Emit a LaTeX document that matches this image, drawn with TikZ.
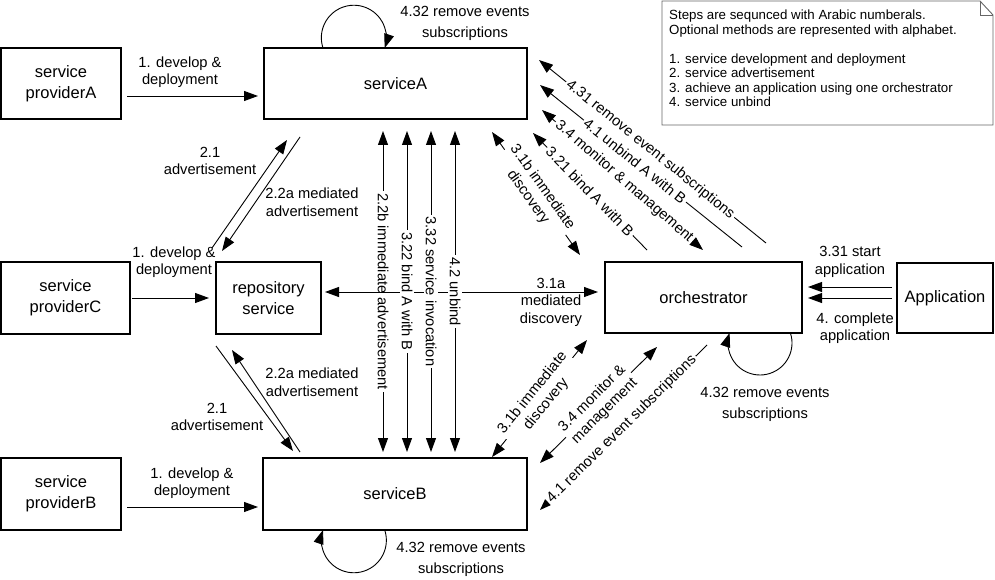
\documentclass[tikz,border=0pt]{standalone}
\usepackage{fontspec}
\setmainfont{Liberation Sans}
\usetikzlibrary{arrows.meta,calc}
\begin{document}
\begin{tikzpicture}[x=1pt,y=-1pt,
 box/.style={draw,line width=1.1pt,align=center,inner sep=0pt,font=\fontsize{16.5}{21}\selectfont},
 lbl/.style={align=center,font=\fontsize{14.7}{17.5}\selectfont,inner sep=0pt},
 looplbl/.style={align=center,font=\fontsize{14.7}{21}\selectfont,inner sep=0pt},
 onl/.style={lbl,fill=white,inner sep=2pt},
 con/.style={line width=0.9pt},
 arr/.style={con,-{Triangle[length=14pt,width=10pt]}},
 darr/.style={con,{Triangle[length=14pt,width=10pt]}-{Triangle[length=14pt,width=10pt]}},
 notebox/.style={draw=black!60,line width=0.9pt},
 notetxt/.style={align=left,inner sep=0pt,font=\fontsize{13.3}{14.5}\selectfont}
 ]
\useasboundingbox (0,0) rectangle (995,580);

% ---------- boxes
\node[box,minimum width=120pt,minimum height=71pt] (pA) at (61,83.5) {service\\providerA};
\node[box,minimum width=263pt,minimum height=71pt] (sA) at (395.5,83.5) {serviceA};
\node[box,minimum width=129pt,minimum height=72pt] (pC) at (65.5,298) {service\\providerC};
\node[box,minimum width=105pt,minimum height=72pt] (repo) at (268.5,298) {repository\\service};
\node[box,minimum width=197pt,minimum height=71pt] (orch) at (703.5,297.5) {orchestrator};
\node[box,minimum width=96pt,minimum height=70pt] (app) at (945,298) {Application};
\node[box,minimum width=120pt,minimum height=72pt] (pB) at (61,494) {service\\providerB};
\node[box,minimum width=264pt,minimum height=72pt] (sB) at (395,494) {serviceB};

% ---------- note
\draw[notebox] (662,1) -- (980,1) -- (993,15) -- (993,125) -- (662,125) -- cycle;
\draw[notebox] (980,1) -- (980,15) -- (993,15);
\node[notetxt,anchor=north west] (note) at (669,10) {Steps are sequnced with Arabic numberals.\\Optional methods are represented with alphabet.\\[14.5pt]1. service development and deployment\\2. service advertisement\\3. achieve an application using one orchestrator\\4. service unbind};

% ---------- develop & deployment
\coordinate (pAo) at (127,96); \coordinate (sAi) at (258,96);
\draw[arr] (pAo) -- (sAi);
\node[lbl] (l1a) at (180,72) {1. develop \&\\deployment};
\coordinate (pCo) at (132,298); \coordinate (repoi) at (209,298);
\draw[arr] (pCo) -- (repoi);
\node[lbl] (l1c) at (174,262) {1. develop \&\\deployment};
\coordinate (pBo) at (127,507); \coordinate (sBi) at (258,507);
\draw[arr] (pBo) -- (sBi);
\node[lbl] (l1b) at (192,483) {1. develop \&\\deployment};

% ---------- advertisement (top)
\coordinate (adA1) at (212,248); \coordinate (adA2) at (287,140);
\draw[arr] (adA1) -- (adA2);
\coordinate (mdA1) at (300,137); \coordinate (mdA2) at (222,251);
\draw[arr] (mdA1) -- (mdA2);
\node[lbl] (l21a) at (210,161) {2.1\\advertisement};
\node[lbl] (l22a) at (312,202) {2.2a mediated\\advertisement};

% ---------- advertisement (bottom)
\coordinate (adB1) at (216,346); \coordinate (adB2) at (293,451);
\draw[arr] (adB1) -- (adB2);
\coordinate (mdB1) at (300,452); \coordinate (mdB2) at (232,350);
\draw[arr] (mdB1) -- (mdB2);
\node[lbl] (l22b) at (312,382) {2.2a mediated\\advertisement};
\node[lbl] (l21b) at (217,417) {2.1\\advertisement};

% ---------- verticals and horizontal
\coordinate (v1t) at (383,131); \coordinate (v1b) at (383,452);
\coordinate (v2t) at (407,131); \coordinate (v2b) at (407,452);
\coordinate (v3t) at (431,131); \coordinate (v3b) at (431,452);
\coordinate (v4t) at (455,131); \coordinate (v4b) at (455,452);
\coordinate (hL) at (325,292); \coordinate (hR) at (598,292);
\draw[darr] (v1t) -- node[onl,rotate=-90] {2.2b immediate advertisement} (v1b);
\draw[darr] (hL) -- (hR);
\node[lbl] (l31a) at (551,302) {3.1a\\mediated\\discovery};
\draw[darr] (v2t) -- node[onl,rotate=-90] {3.22 bind A with B} (v2b);
\draw[darr] (v3t) -- node[onl,rotate=-90] {3.32 service invocation} (v3b);
\draw[darr] (v4t) -- node[onl,rotate=-90] {4.2 unbind} (v4b);

% ---------- orchestrator <-> serviceA
\coordinate (d1t) at (492,132); \coordinate (d1b) at (580,255);
\draw[darr] (d1t) -- node[onl,sloped,pos=0.49] {3.1b immediate\\discovery} (d1b);
\coordinate (d2t) at (533,133); \coordinate (d2b) at (647,250);
\draw[arr] (d2b) -- node[onl,sloped] {3.21 bind A with B} (d2t);
\coordinate (d3t) at (542,110); \coordinate (d3b) at (703,250);
\draw[darr] (d3t) -- node[onl,sloped,pos=0.51] {3.4 monitor \& management} (d3b);
\coordinate (d4t) at (540,85); \coordinate (d4b) at (742,247);
\draw[arr] (d4b) -- node[onl,sloped,pos=0.53] {4.1 unbind A with B} (d4t);
\coordinate (d5t) at (539,60); \coordinate (d5b) at (766,243);
\draw[arr] (d5b) -- node[onl,sloped,pos=0.51] {4.31 remove event subscriptions} (d5t);

% ---------- orchestrator <-> serviceB
\coordinate (e1b) at (492,457); \coordinate (e1t) at (587,340);
\draw[darr] (e1b) -- node[onl,sloped] {3.1b immediate\\discovery} (e1t);
\coordinate (e2b) at (540,463); \coordinate (e2t) at (657,347);
\draw[darr] (e2b) -- node[onl,sloped] {3.4 monitor \&\\management} (e2t);
\coordinate (e3b) at (540,510); \coordinate (e3t) at (707,345);
\draw[arr] (e3t) -- node[onl,sloped,pos=0.51] {4.1 remove event subscriptions} (e3b);

% ---------- application
\coordinate (ap1) at (892,287); \coordinate (or1) at (808,287);
\coordinate (ap2) at (892,298); \coordinate (or2) at (808,298);
\draw[arr] (ap1) -- (or1);
\draw[arr] (ap2) -- (or2);
\node[lbl] (l331) at (850,262) {3.31 start\\application};
\node[lbl] (l4c) at (855,328) {4. complete\\application};

% ---------- self loops
\coordinate (sAl) at (323,48);
\draw[arr] (sAl) arc[start angle=161.6, end angle=378.4, radius=32.5];
\node[looplbl] (l432a) at (465,23.5) {4.32 remove events\\subscriptions};
\coordinate (sBl) at (384.7,530);
\draw[arr] (sBl) arc[start angle=-18.4, end angle=198.4, radius=32.5];
\node[looplbl] (l432b) at (461,559.5) {4.32 remove events\\subscriptions};
\coordinate (orl) at (790.4,333);
\draw[arr] (orl) arc[start angle=-18.2, end angle=198.2, radius=32];
\node[looplbl] (l432o) at (765,404) {4.32 remove events\\subscriptions};
\end{tikzpicture}
\end{document}
